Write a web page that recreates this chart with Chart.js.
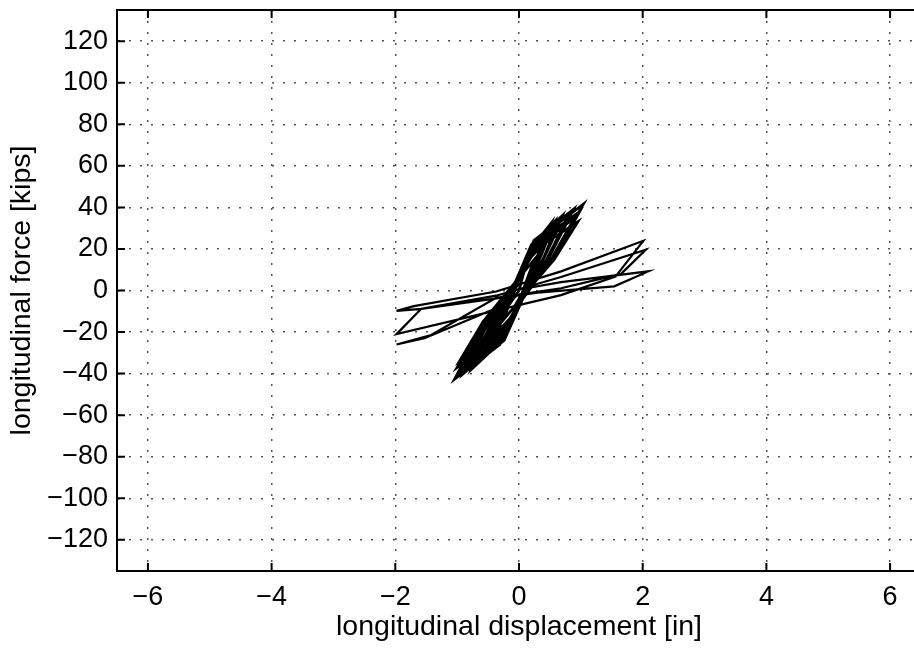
<!DOCTYPE html>
<html>
<head>
<meta charset="utf-8">
<script src="https://cdn.jsdelivr.net/npm/chart.js@4.4.1/dist/chart.umd.min.js"></script>
<style>
  html, body { margin: 0; padding: 0; background: #fff; overflow: hidden; }
  #wrap { width: 930px; height: 648px; }
</style>
</head>
<body>
<div id="wrap"><canvas id="chart" width="930" height="648"></canvas></div>
<script>
// tick values
const xTicks = [-6, -4, -2, 0, 2, 4, 6];
const yTicks = [-120, -100, -80, -60, -40, -20, 0, 20, 40, 60, 80, 100, 120];

// small-amplitude cycles (steep fan)
const steepDisp = [0,
  0.08, 0.25, 0.15, 0.04, -0.08, -0.25, -0.15, -0.04,
  0.1, 0.35, 0.21, 0.05, -0.1, -0.35, -0.21, -0.05,
  0.13, 0.42, 0.25, 0.05, -0.14, -0.45, -0.27, -0.05,
  0.15, 0.5, 0.3, 0.05, -0.16, -0.52, -0.31, -0.05,
  0.16, 0.52, 0.31, 0.06, -0.18, -0.61, -0.37, -0.06,
  0.18, 0.6, 0.36, 0.05, -0.2, -0.65, -0.39, -0.05,
  0.2, 0.65, 0.39, 0.06, -0.22, -0.72, -0.43, -0.06,
  0.22, 0.72, 0.43, 0.05, -0.23, -0.77, -0.46, -0.05,
  0.24, 0.81, 0.49, 0.06, -0.25, -0.85, -0.51, -0.06,
  0.23, 0.78, 0.47, 0.05, -0.27, -0.9, -0.54, -0.05,
  0.27, 0.9, 0.54, 0.06, -0.29, -0.96, -0.58, -0.06,
  0.28, 0.95, 0.57, 0.05, -0.3, -1.0, -0.6, -0.05,
  0.31, 1.04, 0.62, 0.06, -0.31, -1.04, -0.62, -0.06,
  0.29, 0.98, 0.59, 0.05, -0.28, -0.93, -0.56, -0.05,
  0.24, 0.88, 0.55, 0.06, -0.24, -0.98, -0.6, -0.06,
  0.2, 0.7, 0.44, 0.05, -0.2, -0.8, -0.5, -0.05,
  0.17, 0.57, 0.36, 0.05, -0.17, -0.68, -0.42, 0];
const steepForce = [0,
  9, 15, 7, -2, -8, -14, -6, 2,
  13, 21, 9, -3, -12, -20, -9, 3,
  16, 27, 12, -2, -16, -26, -12, 2,
  18, 30, 13, -3, -17, -28, -13, 3,
  19, 32.4, 15, -4, -20, -32.6, -15, 4,
  17, 28, 13, -3, -18, -30, -13, 3,
  21, 34, 15, -4, -21, -35, -16, 4,
  19, 31, 14, -3, -23, -38, -17, 3,
  22, 37, 17, -4, -20, -33, -15, 4,
  20, 33, 15, -3, -24, -40, -18, 3,
  21, 35, 16, -4, -20, -34, -15, 4,
  20, 33, 15, -3, -22, -37, -17, 3,
  25, 41.6, 19, -4, -26, -42.6, -19, 4,
  23, 38, 17, -3, -23, -38, -17, 3,
  24, 39, 20, -4, -24, -41, -21, 4,
  22, 36, 18, -3, -21, -36, -19, 3,
  20, 33, 17, -3, -19, -33, -18, 0];

// large-amplitude cycles (shallow loops)
const loopDisp = [0, 0.68, 2.09, 1.54, 0.3, -1.58, -1.98, -1.7, -0.37,
  0.68, 2.01, 1.56, 0.68, -1.98, -1.58, -0.37,
  0.68, 2.05, 1.65, 0.68, -0.37, -1.42, -1.98, -1.53, -0.37, 0];
const loopForce = [0.5, 4, 9.2, 2, -1, -8.8, -9.8, -7.5, -0.5,
  9.2, 23.9, 6.7, -2.2, -21, -8.8, -2.5,
  6.5, 19.6, 8, 1.1, -3.5, -21.4, -26, -23, -8.5, -2];

const FONT = '"Liberation Sans", Arial, Helvetica, sans-serif';
const toPoints = (xs, ys) => xs.map((x, i) => ({ x: x, y: ys[i] }));
const fmt = v => (v < 0 ? '\u2212' + Math.abs(v) : String(v));

// top border + inward tick marks, matlab style
const framePlugin = {
  id: 'frame',
  afterDraw(chart) {
    const { ctx, chartArea: a, scales } = chart;
    const len = 8;
    ctx.save();
    ctx.strokeStyle = '#000';
    ctx.lineWidth = 2;
    ctx.beginPath();
    ctx.moveTo(a.left, a.top);
    ctx.lineTo(a.right, a.top);
    xTicks.forEach(v => {
      const px = scales.x.getPixelForValue(v);
      ctx.moveTo(px, a.bottom); ctx.lineTo(px, a.bottom - len);
      ctx.moveTo(px, a.top); ctx.lineTo(px, a.top + len);
    });
    yTicks.forEach(v => {
      const py = scales.y.getPixelForValue(v);
      ctx.moveTo(a.left, py); ctx.lineTo(a.left + len, py);
    });
    ctx.stroke();
    ctx.restore();
  }
};

new Chart(document.getElementById('chart'), {
  type: 'scatter',
  data: {
    datasets: [
      { data: toPoints(steepDisp, steepForce), showLine: true, borderColor: '#000', borderWidth: 2.8, pointRadius: 0, tension: 0, fill: false },
      { data: toPoints(loopDisp, loopForce), showLine: true, borderColor: '#000', borderWidth: 2.2, pointRadius: 0, tension: 0, fill: false }
    ]
  },
  options: {
    responsive: false,
    animation: false,
    layout: { padding: { left: 0, top: 10, right: 9, bottom: 0 } },
    plugins: { legend: { display: false }, tooltip: { enabled: false } },
    scales: {
      x: {
        type: 'linear', min: -6.5, max: 6.5,
        afterBuildTicks: s => { s.ticks = xTicks.map(v => ({ value: v })); },
        afterFit: s => { s.height = 77; s.paddingLeft = 0; s.paddingRight = 0; },
        grid: { color: '#555', lineWidth: 1.5, drawTicks: false },
        border: { display: true, color: '#000', width: 2, dash: [2, 9] },
        ticks: { color: '#000', padding: 10, font: { family: FONT, size: 27 }, callback: v => fmt(v) },
        title: { display: true, text: 'longitudinal displacement [in]', color: '#000', font: { family: FONT, size: 28.5 }, padding: { top: 0, bottom: 4 } }
      },
      y: {
        type: 'linear', min: -135, max: 135,
        afterBuildTicks: s => { s.ticks = yTicks.map(v => ({ value: v })); },
        afterFit: s => { s.width = 117; s.paddingTop = 0; s.paddingBottom = 0; },
        grid: { color: '#555', lineWidth: 1.5, drawTicks: false },
        border: { display: true, color: '#000', width: 2, dash: [2, 9] },
        ticks: { color: '#000', padding: 9, font: { family: FONT, size: 27 }, callback: v => fmt(v) },
        title: { display: true, text: 'longitudinal force [kips]', color: '#000', font: { family: FONT, size: 28.5 }, padding: { top: 5, bottom: 0 } }
      }
    }
  },
  plugins: [framePlugin]
});
</script>
</body>
</html>
